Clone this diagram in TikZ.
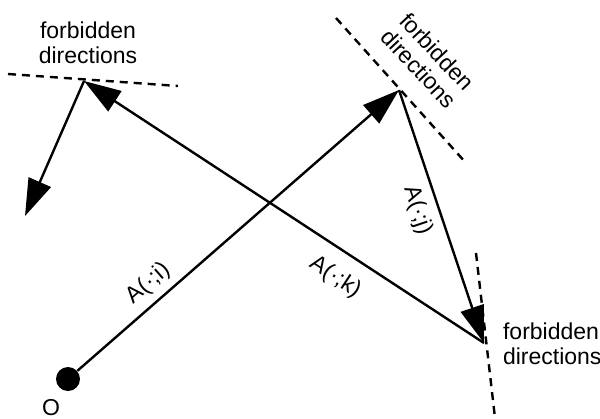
\documentclass[tikz,border=0pt]{standalone}
\usepackage{fontspec}
\setmainfont{Liberation Sans}
\usetikzlibrary{arrows.meta}

\begin{document}
\begin{tikzpicture}[x=0.5pt, y=-0.5pt,
  every node/.style={font=\fontsize{11.5}{12.5}\selectfont},
  vec/.style={line width=1.2pt, -{Triangle[length=18.5pt, width=12pt]}},
  forbid/.style={line width=1.2pt, dash pattern=on 4pt off 3pt}]
\useasboundingbox (0,0) rectangle (600,418);
\node[circle, fill, inner sep=0pt, minimum size=12pt] (o) at (68,379) {};
\node (olabel) at (51,408) {O};
\coordinate (vi) at (399,90);
\coordinate (vj) at (484,343);
\coordinate (vk) at (84,81);
\coordinate (vl) at (25,216);
% forbidden direction lines
\draw[forbid] (8,74) -- (178,86);
\draw[forbid] (336,18) -- (466,163);
\draw[forbid] (476,253) -- (495,418);
\node[align=center] (fk) at (88,43) {forbidden\\directions};
\node[align=center, rotate=-47] (fi) at (428,60) {forbidden\\directions};
\node[align=left, anchor=west] (fj) at (496,344) {forbidden\\directions};
% vectors
\draw[vec] (o) -- node[sloped, pos=0.26, above] {A(·;i)} (vi);
\draw[vec] (vi) -- node[sloped, pos=0.45, below=1pt] {A(·;j)} (vj);
\draw[vec] (vj) -- node[sloped, pos=0.336, below=4pt] {A(·;k)} (vk);
\draw[vec] (vk) -- (vl);
\end{tikzpicture}
\end{document}
